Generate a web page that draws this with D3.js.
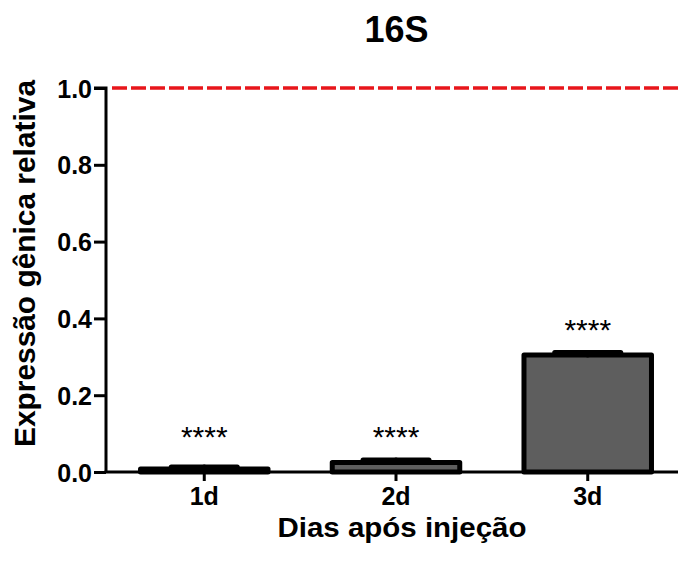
<!DOCTYPE html>
<html>
<head>
<meta charset="utf-8">
<script src="https://cdn.jsdelivr.net/npm/d3@7"></script>
<style>
  html, body { margin: 0; padding: 0; background: #ffffff; }
  svg { display: block; font-family: "Liberation Sans", Arial, sans-serif; }
</style>
</head>
<body>
<svg id="chart" width="678" height="561"></svg>
<script>
// Relative 16S expression by days after injection (control = 1.0)
const categories = ["1d", "2d", "3d"];
const means = [0.008, 0.025, 0.305];
const errors = [0.005, 0.006, 0.006];
const significance = ["****", "****", "****"];
const yTicks = [0.0, 0.2, 0.4, 0.6, 0.8, 1.0];
const referenceLevel = 1.0;

const svg = d3.select("#chart");

const y = d3.scaleLinear().domain([0, 1]).range([472, 88]);
const x = d3.scaleBand()
  .domain(categories)
  .range([106, 686])
  .paddingInner(0.335)
  .paddingOuter(0.18);

// Title
svg.append("text")
  .attr("x", 396.5).attr("y", 42)
  .attr("text-anchor", "middle")
  .attr("font-size", 36).attr("font-weight", "bold")
  .text("16S");

// Reference line at control level
svg.append("line")
  .attr("x1", 112).attr("x2", 686)
  .attr("y1", y(referenceLevel)).attr("y2", y(referenceLevel))
  .attr("stroke", "#e8161b")
  .attr("stroke-width", 3.5)
  .attr("stroke-dasharray", "15,4");

// Bars
const bars = svg.append("g");
bars.selectAll("rect")
  .data(categories)
  .join("rect")
  .attr("x", d => x(d))
  .attr("width", x.bandwidth())
  .attr("y", (d, i) => y(means[i]))
  .attr("height", (d, i) => y(0) - y(means[i]))
  .attr("fill", "#5e5e5e")
  .attr("stroke", "#000")
  .attr("stroke-width", 5)
  .attr("stroke-linejoin", "round");

// Upper error bars
const capHalf = 33;
const err = svg.append("g").attr("stroke", "#000").attr("stroke-width", 5).attr("stroke-linecap", "round");
categories.forEach((c, i) => {
  const cx = x(c) + x.bandwidth() / 2;
  err.append("line")
    .attr("x1", cx).attr("x2", cx)
    .attr("y1", y(means[i])).attr("y2", y(means[i] + errors[i]));
  err.append("line")
    .attr("x1", cx - capHalf).attr("x2", cx + capHalf)
    .attr("y1", y(means[i] + errors[i])).attr("y2", y(means[i] + errors[i]));
});

// Significance marks
svg.append("g").selectAll("text")
  .data(categories)
  .join("text")
  .attr("x", d => x(d) + x.bandwidth() / 2)
  .attr("y", (d, i) => y(Math.max(means[i] + errors[i], 0.031)) + 14)
  .attr("dy", "-0.9em")
  .attr("text-anchor", "middle")
  .attr("font-size", 30)
  .text((d, i) => significance[i]);

// Y axis
const yAxis = svg.append("g")
  .attr("transform", "translate(106,0)")
  .call(d3.axisLeft(y).tickValues(yTicks).tickFormat(d3.format(".1f")).tickSize(12).tickPadding(2));
yAxis.select(".domain").attr("stroke-width", 3).attr("d", `M-12,${y(1)}H0V${y(0)}`);
yAxis.selectAll(".tick line").attr("stroke-width", 3);
yAxis.selectAll(".tick text")
  .attr("font-size", 25).attr("font-weight", "bold")
  .attr("font-family", "'Liberation Sans', Arial, sans-serif")
  .attr("fill", "#000").attr("dy", "0.36em");

// X axis
const xAxis = svg.append("g")
  .attr("transform", `translate(0,${y(0)})`)
  .call(d3.axisBottom(x).tickSize(9).tickPadding(6));
xAxis.select(".domain").attr("stroke-width", 3).attr("d", `M104.5,0H686`);
xAxis.selectAll(".tick line").attr("stroke-width", 3);
xAxis.selectAll(".tick text")
  .attr("font-size", 25).attr("font-weight", "bold")
  .attr("font-family", "'Liberation Sans', Arial, sans-serif")
  .attr("fill", "#000")
  .attr("dy", "0.72em");

// Axis titles
svg.append("text")
  .attr("x", 402).attr("y", 537)
  .attr("text-anchor", "middle")
  .attr("font-size", 27).attr("font-weight", "bold")
  .attr("textLength", 249).attr("lengthAdjust", "spacingAndGlyphs")
  .text("Dias após injeção");

svg.append("text")
  .attr("transform", "translate(35,263.5) rotate(-90)")
  .attr("text-anchor", "middle")
  .attr("font-size", 29).attr("font-weight", "bold")
  .attr("textLength", 367).attr("lengthAdjust", "spacingAndGlyphs")
  .text("Expressão gênica relativa");
</script>
</body>
</html>
